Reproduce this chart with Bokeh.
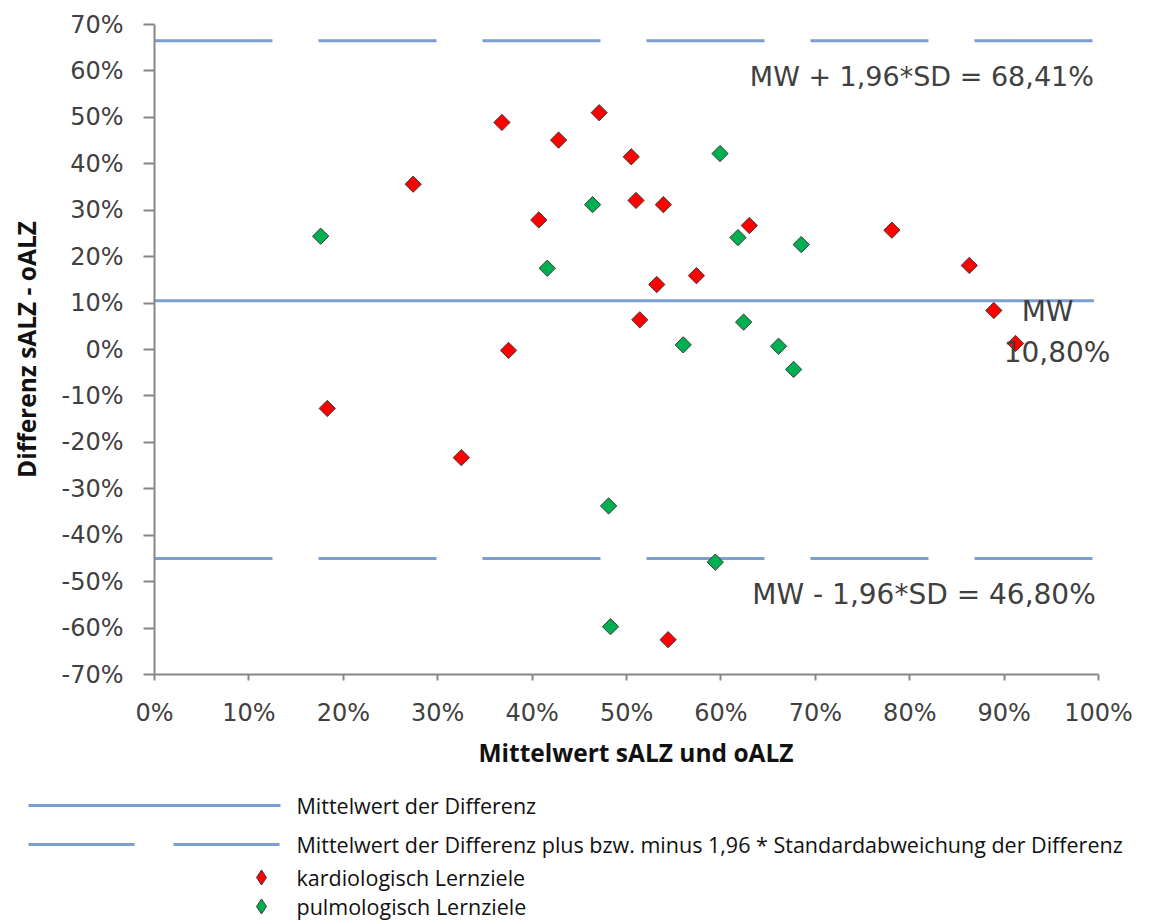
import math
from bokeh.plotting import figure
from bokeh.models import Range1d, FixedTicker, Label
from bokeh.embed import file_html
from bokeh.resources import INLINE
from bokeh.core.properties import value

# ---------------- data (percent) ----------------
kardio_x = [36.8, 47.1, 42.8, 50.5, 27.4, 51.0, 53.9, 40.7, 53.2, 51.4,
            37.5, 63.0, 57.4, 78.1, 86.3, 88.9, 91.2, 18.3, 32.5, 54.4]
kardio_y = [48.9, 51.0, 45.1, 41.5, 35.6, 32.1, 31.2, 27.9, 14.0, 6.4,
            -0.2, 26.7, 15.9, 25.7, 18.1, 8.4, 1.3, -12.7, -23.3, -62.5]

pulmo_x = [46.4, 17.6, 41.6, 59.9, 61.8, 68.5, 62.4, 56.0, 66.1, 67.7,
           48.1, 48.3, 59.4]
pulmo_y = [31.2, 24.4, 17.5, 42.2, 24.1, 22.6, 5.9, 1.0, 0.7, -4.3,
           -33.7, -59.7, -45.8]

mean_diff = 10.5
upper_loa = 66.5
lower_loa = -45.0
line_x_span = [0, 99.5]

x_ticks = [0, 10, 20, 30, 40, 50, 60, 70, 80, 90, 100]
x_tick_labels = ["0%", "10%", "20%", "30%", "40%", "50%", "60%", "70%",
                 "80%", "90%", "100%"]
y_ticks = [-70, -60, -50, -40, -30, -20, -10, 0, 10, 20, 30, 40, 50, 60, 70]
y_tick_labels = ["-70%", "-60%", "-50%", "-40%", "-30%", "-20%", "-10%", "0%",
                 "10%", "20%", "30%", "40%", "50%", "60%", "70%"]

legend_labels = [
    "Mittelwert der Differenz",
    "Mittelwert der Differenz plus bzw. minus 1,96 * Standardabweichung der Differenz",
    "kardiologisch Lernziele",
    "pulmologisch Lernziele",
]

# ---------------- style ----------------
BLUE = "#7b9fd0"
RED = "#ff0000"
GREEN = "#00b050"
AXIS = "#868686"
TXT = "#404040"

p = figure(width=1165, height=783, x_range=Range1d(0, 102), y_range=Range1d(-70, 70),
           output_backend="svg", toolbar_location=None,
           min_border_left=154, min_border_right=48, min_border_top=24, min_border_bottom=109)
p.outline_line_color = None
p.grid.visible = False
p.background_fill_color = "white"

p.xaxis.ticker = FixedTicker(ticks=x_ticks)
p.xaxis.major_label_overrides = dict(zip(x_ticks, x_tick_labels))
p.xaxis.bounds = (0, 100)
p.yaxis.ticker = FixedTicker(ticks=y_ticks)
p.yaxis.major_label_overrides = dict(zip(y_ticks, y_tick_labels))

for ax in (p.xaxis, p.yaxis):
    ax.axis_line_color = AXIS
    ax.axis_line_width = 2
    ax.major_tick_line_color = AXIS
    ax.major_tick_line_width = 2
    ax.major_tick_in = 0
    ax.minor_tick_line_color = None
    ax.major_label_text_font = "DejaVu Sans"
    ax.major_label_text_font_size = "24px"
    ax.major_label_text_color = TXT
    ax.axis_label_text_font = "Open Sans"
    ax.axis_label_text_font_style = "bold"
    ax.axis_label_text_font_size = "24.5px"
    ax.axis_label_text_color = "#111111"

p.xaxis.major_tick_out = 6
p.yaxis.major_tick_out = 11
p.xaxis.major_label_standoff = 18
p.yaxis.major_label_standoff = 20
p.xaxis.axis_label = "Mittelwert sALZ und oALZ"
p.yaxis.axis_label = "Differenz sALZ - oALZ"
p.xaxis.axis_label_standoff = 6
p.yaxis.axis_label_standoff = 15

# lines
p.line(line_x_span, [mean_diff, mean_diff], line_color=BLUE, line_width=3)
p.line(line_x_span, [upper_loa, upper_loa], line_color=BLUE, line_width=3, line_dash="118 46")
p.line(line_x_span, [lower_loa, lower_loa], line_color=BLUE, line_width=3, line_dash="118 46")

# points
p.scatter(kardio_x, kardio_y, marker="square", angle=math.pi / 4, size=11.5,
          fill_color=RED, line_color="#3a3a3a", line_width=1)
p.scatter(pulmo_x, pulmo_y, marker="square", angle=math.pi / 4, size=11.5,
          fill_color=GREEN, line_color="#3a3a3a", line_width=1)

# annotations
p.add_layout(Label(x=99.5, y=58.8, text="MW + 1,96*SD = 68,41%", text_align="right",
                   text_baseline="middle", text_font="DejaVu Sans",
                   text_font_size="27px", text_color=TXT))
p.add_layout(Label(x=99.7, y=-52.8, text="MW - 1,96*SD = 46,80%", text_align="right",
                   text_baseline="middle", text_font="DejaVu Sans",
                   text_font_size="28px", text_color=TXT))
p.add_layout(Label(x=94.6, y=8.2, text="MW", text_align="center",
                   text_baseline="middle", text_font="DejaVu Sans",
                   text_font_size="28px", text_color=TXT))
p.add_layout(Label(x=95.6, y=-0.6, text="10,80%", text_align="center",
                   text_baseline="middle", text_font="DejaVu Sans",
                   text_font_size="28px", text_color=TXT))

# ---------------- legend (separate strip, page pixel coordinates) ----------------
lf = figure(width=1165, height=141, x_range=Range1d(0, 1165), y_range=Range1d(924, 783),
            output_backend="svg", toolbar_location=None, min_border=0,
            x_axis_location=None, y_axis_location=None)
lf.outline_line_color = None
lf.grid.visible = False

row_y = [805, 844, 877, 906]
lf.line([28, 280], [row_y[0], row_y[0]], line_color=BLUE, line_width=3)
lf.line([28, 280], [row_y[1], row_y[1]], line_color=BLUE, line_width=3, line_dash="106 39")
lf.scatter([261], [row_y[2]], marker="diamond", size=15, fill_color=RED,
           line_color="#3a3a3a", line_width=1)
lf.scatter([261], [row_y[3]], marker="diamond", size=15, fill_color=GREEN,
           line_color="#3a3a3a", line_width=1)
lf.text(x=[296] * 4, y=row_y, text=legend_labels, text_font=value("Open Sans"),
        text_font_size=value("21.5px"), text_baseline="middle", text_align="left",
        text_color="#111111")

open("out.html", "w").write(file_html([p, lf], INLINE))
